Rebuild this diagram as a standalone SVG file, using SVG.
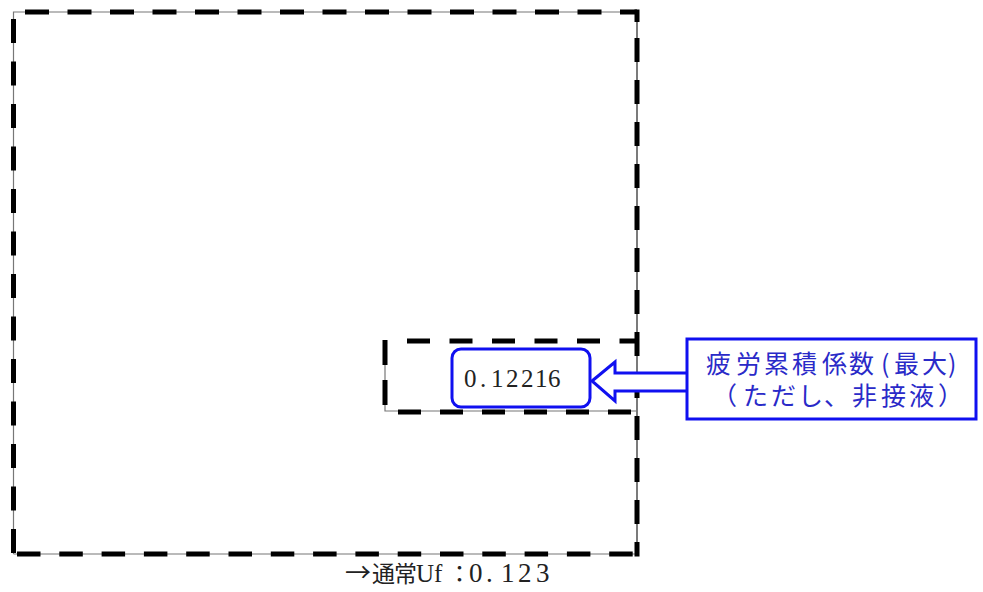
<svg xmlns="http://www.w3.org/2000/svg" width="983" height="592" viewBox="0 0 983 592">
<style>
.thin{fill:none;stroke:#777;stroke-width:1.2}
.thinR{fill:none;stroke:#222;stroke-width:1.2}
.dash{fill:none;stroke:#000;stroke-width:5}
.blue{fill:#fff;stroke:#1010f0;stroke-width:3}
.serif{font-family:"Liberation Serif","Noto Sans CJK JP",serif;fill:#222}
.cjk{font-family:"Noto Sans CJK JP",sans-serif}
.lbl{font-family:"Noto Sans CJK JP",sans-serif;fill:#2a2ac8;font-size:25px}
</style>
<rect width="983" height="592" fill="#fff"/>
<g id="outer">
<path class="thin" d="M13.5 554 V12 H637"/>
<path class="thin" d="M13.5 554 H637"/>
<path class="thinR" d="M637 12 V554"/>
<line class="dash" x1="25" y1="12" x2="637" y2="12" stroke-dasharray="24 18.5"/>
<line class="dash" x1="13.5" y1="19" x2="13.5" y2="554" stroke-dasharray="24 18.5"/>
<line class="dash" x1="17" y1="554" x2="637" y2="554" stroke-dasharray="23.5 18.8"/>
<line class="dash" x1="637" y1="9.5" x2="637" y2="22" />
<line class="dash" x1="637" y1="38" x2="637" y2="556.5" stroke-dasharray="24 18"/>
</g>
<g id="inner">
<path class="thin" d="M385 341 V411 H637"/>
<line class="dash" x1="407" y1="341" x2="637" y2="341" stroke-dasharray="23 19.5"/>
<line class="dash" x1="385" y1="340" x2="385" y2="412" stroke-dasharray="25 15"/>
<line class="dash" x1="398" y1="412" x2="637" y2="412" stroke-dasharray="23 19"/>
</g>
<g id="connectors">
<path class="blue" d="M592 381 L615 362 L615 373 L688 373 L688 391 L615 391 L615 401 Z"/>
</g>
<g id="value">
<rect class="blue" x="452" y="349" width="138" height="58" rx="9"/>
<text class="serif" x="464 480 486 491 506 521 535 548" y="387" font-size="25">0. 12216</text>
</g>
<g id="label">
<rect class="blue" x="687" y="339" width="289" height="80"/>
<text class="lbl" x="706 736 764 792 822 849 881 894 922 948" y="373">疲労累積係数(最大)</text>
<text class="lbl" x="712 743 771 798 824 852 881 909 938" y="405">（ただし、非接液）</text>
</g>
<g id="footer">
<text class="serif" y="582" font-size="24"><tspan class="cjk" x="345" font-size="26">→</tspan><tspan class="cjk" x="372 394" font-size="23">通常</tspan><tspan x="416" font-size="25">Uf</tspan><tspan class="cjk" x="448" font-size="23">：</tspan><tspan x="469 486 492 501 518 536" font-size="27">0. 123</tspan></text>
</g>
</svg>
